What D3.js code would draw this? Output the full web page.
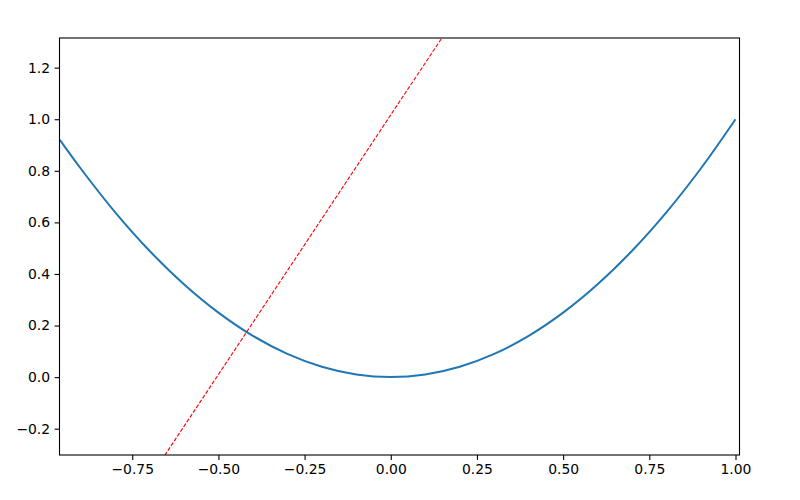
<!DOCTYPE html>
<html>
<head>
<meta charset="utf-8">
<script src="https://cdn.jsdelivr.net/npm/d3@7"></script>
<style>
  body { margin: 0; background: #fff; }
  text { font-family: "DejaVu Sans", sans-serif; }
</style>
</head>
<body>
<div id="chart"></div>
<script>
const WIDTH = 800;
const HEIGHT = 500;

// curve values
const curveX = [-0.96, -0.9, -0.8, -0.7, -0.6, -0.5, -0.4, -0.3, -0.2, -0.1, 0.0,
                0.1, 0.2, 0.3, 0.4, 0.5, 0.6, 0.7, 0.8, 0.9, 1.0];
const curveY = [0.92, 0.81, 0.64, 0.49, 0.36, 0.25, 0.16, 0.09, 0.04, 0.01, 0.0,
                0.01, 0.04, 0.09, 0.16, 0.25, 0.36, 0.49, 0.64, 0.81, 1.0];

// red dashed line, end points (just past the frame)
const lineX = [-0.665, 0.158];
const lineY = [-0.322, 1.335];

const xTicks = [-0.75, -0.5, -0.25, 0.0, 0.25, 0.5, 0.75, 1.0];
const yTicks = [-0.2, 0.0, 0.2, 0.4, 0.6, 0.8, 1.0, 1.2];

const xDomain = [-0.961, 1.0116];
const yDomain = [-0.302, 1.315];

const margin = {left: 59.5, right: 60.5, top: 38, bottom: 45};

function fmt(d, n){
    return d.toFixed(n).replace("-", "\u2212");
}

function main(){
    let svg = d3.select("#chart")
        .append("svg")
        .attr("width", WIDTH)
        .attr("height", HEIGHT);

    let x = d3.scaleLinear()
        .domain(xDomain)
        .range([margin.left, WIDTH - margin.right]);
    let y = d3.scaleLinear()
        .domain(yDomain)
        .range([HEIGHT - margin.bottom, margin.top]);

    svg.append("clipPath")
        .attr("id", "clip")
        .append("rect")
        .attr("x", margin.left)
        .attr("y", margin.top)
        .attr("width", WIDTH - margin.left - margin.right)
        .attr("height", HEIGHT - margin.top - margin.bottom);

    let plot = svg.append("g").attr("clip-path", "url(#clip)");

    let curveData = curveX.map((d, i) => [d, curveY[i]]);
    let lineData = lineX.map((d, i) => [d, lineY[i]]);

    let path = d3.line()
        .x(d => x(d[0]))
        .y(d => y(d[1]));

    plot.append("path")
        .datum(curveData)
        .attr("d", path.curve(d3.curveCatmullRom))
        .style("fill", "none")
        .style("stroke", "#1f77b4")
        .style("stroke-width", 2);

    plot.append("path")
        .datum(lineData)
        .attr("d", path.curve(d3.curveLinear))
        .style("fill", "none")
        .style("stroke", "red")
        .style("stroke-width", 1.1)
        .style("stroke-dasharray", "4,1.7");

    let xAxis = svg.append("g")
        .attr("transform", `translate(0,${HEIGHT - margin.bottom})`)
        .call(d3.axisBottom(x).tickValues(xTicks).tickSize(4.9).tickPadding(4.5).tickFormat(d => fmt(d, 2)));
    let yAxis = svg.append("g")
        .attr("transform", `translate(${margin.left},0)`)
        .call(d3.axisLeft(y).tickValues(yTicks).tickSize(4.9).tickPadding(4.5).tickFormat(d => fmt(d, 1)));

    [xAxis, yAxis].forEach(a => {
        a.select(".domain").remove();
        a.selectAll("line").style("stroke", "#000").style("stroke-width", 1.1);
        a.selectAll("text")
            .style("font-family", "DejaVu Sans")
            .style("font-size", "13.9px")
            .style("fill", "#000");
    });

    svg.append("rect")
        .attr("x", margin.left)
        .attr("y", margin.top)
        .attr("width", WIDTH - margin.left - margin.right)
        .attr("height", HEIGHT - margin.top - margin.bottom)
        .style("fill", "none")
        .style("stroke", "#000")
        .style("stroke-width", 1.1);
}

window.addEventListener("load", main);
</script>
</body>
</html>
